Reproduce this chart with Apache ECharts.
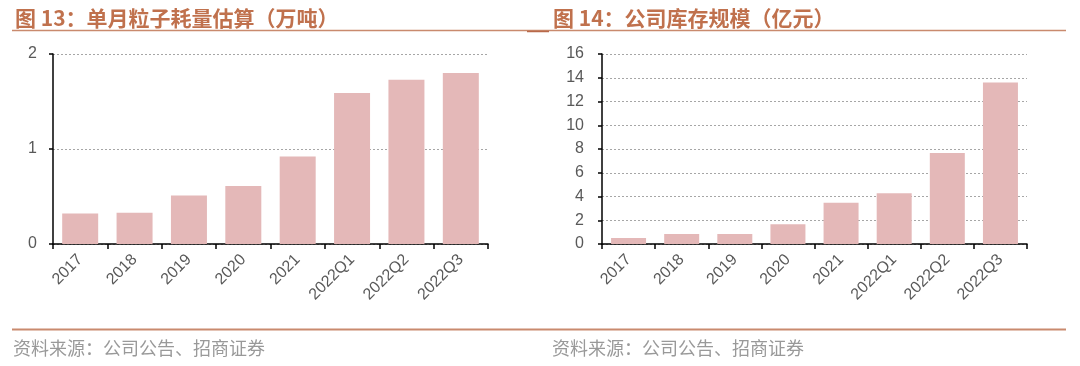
<!DOCTYPE html>
<html>
<head>
<meta charset="utf-8">
<script src="https://cdn.jsdelivr.net/npm/echarts@6/dist/echarts.min.js"></script>
<style>html,body{margin:0;padding:0;background:#fff}#c{width:1080px;height:366px}</style>
</head>
<body>
<div id="c"></div>
<script>
const categories = ['2017','2018','2019','2020','2021','2022Q1','2022Q2','2022Q3'];
const particleUse = [0.32, 0.33, 0.51, 0.61, 0.92, 1.59, 1.73, 1.80];
const inventory = [0.50, 0.84, 0.84, 1.66, 3.48, 4.27, 7.66, 13.6];
const leftTicks = {min: 0, max: 2, interval: 1};
const rightTicks = {min: 0, max: 16, interval: 2};
const titleLeft = '图 13：单月粒子耗量估算（万吨）';
const titleRight = '图 14：公司库存规模（亿元）';
const sourceText = '资料来源：公司公告、招商证券';

const FONT = '"Noto Sans CJK SC", "Liberation Sans", sans-serif';
const titleColor = '#c0714d';
const lineColor = '#c98a6e';
const barColor = '#e4b8b8';

function xAxis(idx) {
  return {
    type: 'category', gridIndex: idx, data: categories,
    axisLine: {lineStyle: {color: '#000', width: 1.5}},
    axisTick: {show: true, alignWithLabel: false, length: 5, lineStyle: {color: '#000', width: 1.5}},
    axisLabel: {rotate: 45, color: '#595959', fontSize: 16, fontFamily: '"Liberation Sans", Arial, sans-serif', margin: 13, interval: 0}
  };
}
function yAxis(idx, t, margin) {
  return {
    type: 'value', gridIndex: idx, min: t.min, max: t.max, interval: t.interval,
    axisLine: {show: true, lineStyle: {color: '#000', width: 1.5}},
    axisTick: {show: true, length: 4, lineStyle: {color: '#000', width: 1.5}},
    axisLabel: {color: '#595959', fontSize: 16, fontFamily: '"Liberation Sans", Arial, sans-serif', margin: margin},
    splitLine: {show: true, lineStyle: {color: '#a6a6a6', type: [2, 2], width: 1}}
  };
}

const chart = echarts.init(document.getElementById('c'), null, {renderer: 'canvas'});
chart.setOption({
  animation: false,
  backgroundColor: '#fff',
  title: [
    {text: titleLeft, left: 10, top: 3, textStyle: {color: titleColor, fontSize: 21, fontWeight: 'bold', fontFamily: FONT}},
    {text: titleRight, left: 548, top: 3, textStyle: {color: titleColor, fontSize: 21, fontWeight: 'bold', fontFamily: FONT}},
    {text: sourceText, left: 8, top: 334, textStyle: {color: '#999999', fontSize: 18, fontWeight: 'normal', fontFamily: FONT}},
    {text: sourceText, left: 547, top: 334, textStyle: {color: '#999999', fontSize: 18, fontWeight: 'normal', fontFamily: FONT}}
  ],
  graphic: [
    {type: 'line', shape: {x1: 12, y1: 30.5, x2: 1066, y2: 30.5}, style: {stroke: lineColor, lineWidth: 1.5}},
    {type: 'line', shape: {x1: 527, y1: 31.5, x2: 549, y2: 31.5}, style: {stroke: '#b8694a', lineWidth: 1.5}},
    {type: 'line', shape: {x1: 12, y1: 329.5, x2: 1066, y2: 329.5}, style: {stroke: lineColor, lineWidth: 2}}
  ],
  grid: [
    {left: 53, right: 592, top: 54, bottom: 122},
    {left: 602, right: 53, top: 54, bottom: 122}
  ],
  xAxis: [xAxis(0), xAxis(1)],
  yAxis: [yAxis(0, leftTicks, 16), yAxis(1, rightTicks, 18)],
  series: [
    {type: 'bar', xAxisIndex: 0, yAxisIndex: 0, data: particleUse, barWidth: 36, itemStyle: {color: barColor}},
    {type: 'bar', xAxisIndex: 1, yAxisIndex: 1, data: inventory, barWidth: 35, itemStyle: {color: barColor}}
  ]
});
</script>
</body>
</html>
